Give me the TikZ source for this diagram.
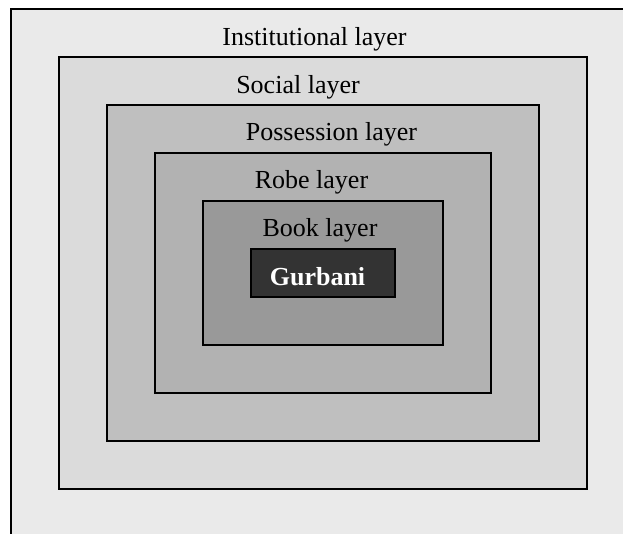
\documentclass[tikz,border=0pt]{standalone}
\usepackage{fontspec}
\setmainfont{Liberation Serif}
\tikzset{
  layer/.style={draw=black, line width=1.4pt, anchor=north west, inner sep=0pt, outer sep=0pt},
  lbl/.style={font=\fontsize{26}{30}\selectfont, text=black, inner sep=0pt, anchor=base},
}
\definecolor{cInst}{HTML}{EAEAEA}
\definecolor{cSoc}{HTML}{DBDBDB}
\definecolor{cPos}{HTML}{BFBFBF}
\definecolor{cRobe}{HTML}{B2B2B2}
\definecolor{cBook}{HTML}{999999}
\definecolor{cGur}{HTML}{333333}
\begin{document}
\begin{tikzpicture}[x=1pt,y=-1pt]
\useasboundingbox (0,0) rectangle (623,534);
\clip (0,0) rectangle (623,534);
\fill[white] (0,0) rectangle (623,534);
\node[layer, fill=cInst, minimum width=640pt, minimum height=560pt] (inst) at (11,9) {};
\node[layer, fill=cSoc, minimum width=528pt, minimum height=432pt] (soc) at (59,57) {};
\node[layer, fill=cPos, minimum width=432pt, minimum height=336pt] (pos) at (107,105) {};
\node[layer, fill=cRobe, minimum width=336pt, minimum height=240pt] (robe) at (155,153) {};
\node[layer, fill=cBook, minimum width=240pt, minimum height=144pt] (book) at (203,201) {};
\node[layer, fill=cGur, minimum width=144pt, minimum height=48pt] (gur) at (251,249) {};
\node[lbl] (tinst) at (314.5,45.5) {Institutional layer};
\node[lbl] (tsoc) at (298,93.3) {Social layer};
\node[lbl] (tpos) at (331.5,141) {Possession layer};
\node[lbl] (trobe) at (311.5,188.5) {Robe layer};
\node[lbl] (tbook) at (320,237) {Book layer};
\node[lbl, text=white, font=\fontsize{26}{30}\selectfont\bfseries] (tgur) at (317.5,286) {Gurbani};
\end{tikzpicture}
\end{document}
